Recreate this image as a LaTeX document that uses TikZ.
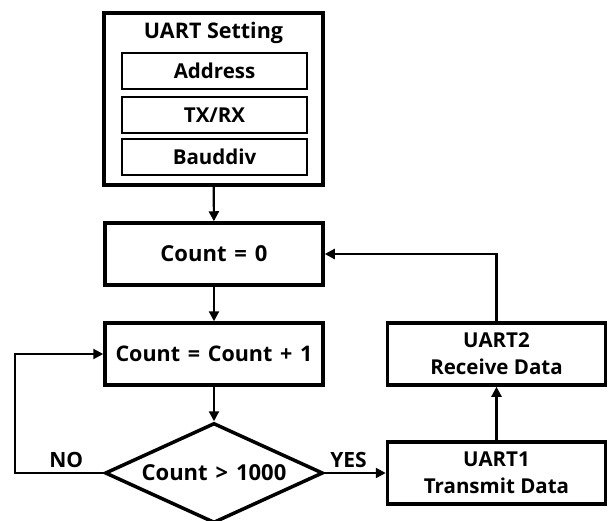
\documentclass[tikz,border=0pt]{standalone}
\usepackage{fontspec}
\setmainfont{Open Sans}
\usetikzlibrary{shapes.geometric,arrows.meta}
\newcommand\opgap{\hspace{0.36em}}

\begin{document}
\begin{tikzpicture}[%
  x=1pt, y=-1pt,
  font=\bfseries\fontsize{22}{26}\selectfont,
  block/.style={draw, line width=3.5pt, inner sep=0pt, minimum width=218pt, minimum height=62pt, align=center},
  twoline/.style={block, font=\bfseries\fontsize{20.5}{27}\selectfont},
  subblock/.style={draw, line width=2.5pt, inner sep=0pt, minimum width=185pt, minimum height=36pt, font=\bfseries\fontsize{20.5}{24}\selectfont},
  decision/.style={draw, diamond, line width=3.5pt, inner sep=0pt, aspect=2.18, minimum width=218pt, minimum height=100pt},
  flow/.style={line width=2.2pt, -{Triangle[length=10pt,width=10pt]}},
  tlabel/.style={font=\bfseries\fontsize{21}{25}\selectfont}]
\useasboundingbox (0,0) rectangle (608,520);

% UART setting block
\node[draw, line width=3.5pt, minimum width=219pt, minimum height=172pt] (setting) at (213.5,99) {};
\node[font=\bfseries\fontsize{21.5}{25}\selectfont] (title) at (213.5,33) {UART Setting};
\node[subblock] (addr) at (214.5,71) {Address};
\node[subblock] (txrx) at (214.5,115) {TX/RX};
\node[subblock] (baud) at (214.5,157) {Bauddiv};

% main loop
\node[block] (count0) at (214,254) {Count\opgap=\opgap0};
\node[block, font=\bfseries\fontsize{21.5}{26}\selectfont] (countinc) at (214,354) {Count\opgap=\opgap Count\opgap+\opgap1};
\node[decision] (check) at (214,473) {Count\opgap>\opgap1000};
\node[twoline] (uarttx) at (496.5,473) {UART1\\Transmit Data};
\node[twoline] (uartrx) at (496.5,354) {UART2\\Receive Data};
\coordinate (noturn) at (15,473);

\draw[flow] (setting) -- (count0);
\draw[flow] (count0) -- (countinc);
\draw[flow] (countinc) -- (check);
\draw[flow] (check.east) -- node[tlabel, above=1pt, pos=0.39] {YES} (uarttx.west);
\draw[flow] (uarttx) -- (uartrx);
\draw[flow] (uartrx.north) |- (count0.east);
\draw[flow] (check.west) -- node[tlabel, above=1pt, pos=0.42] {NO} (noturn) |- (countinc.west);
\end{tikzpicture}
\end{document}
